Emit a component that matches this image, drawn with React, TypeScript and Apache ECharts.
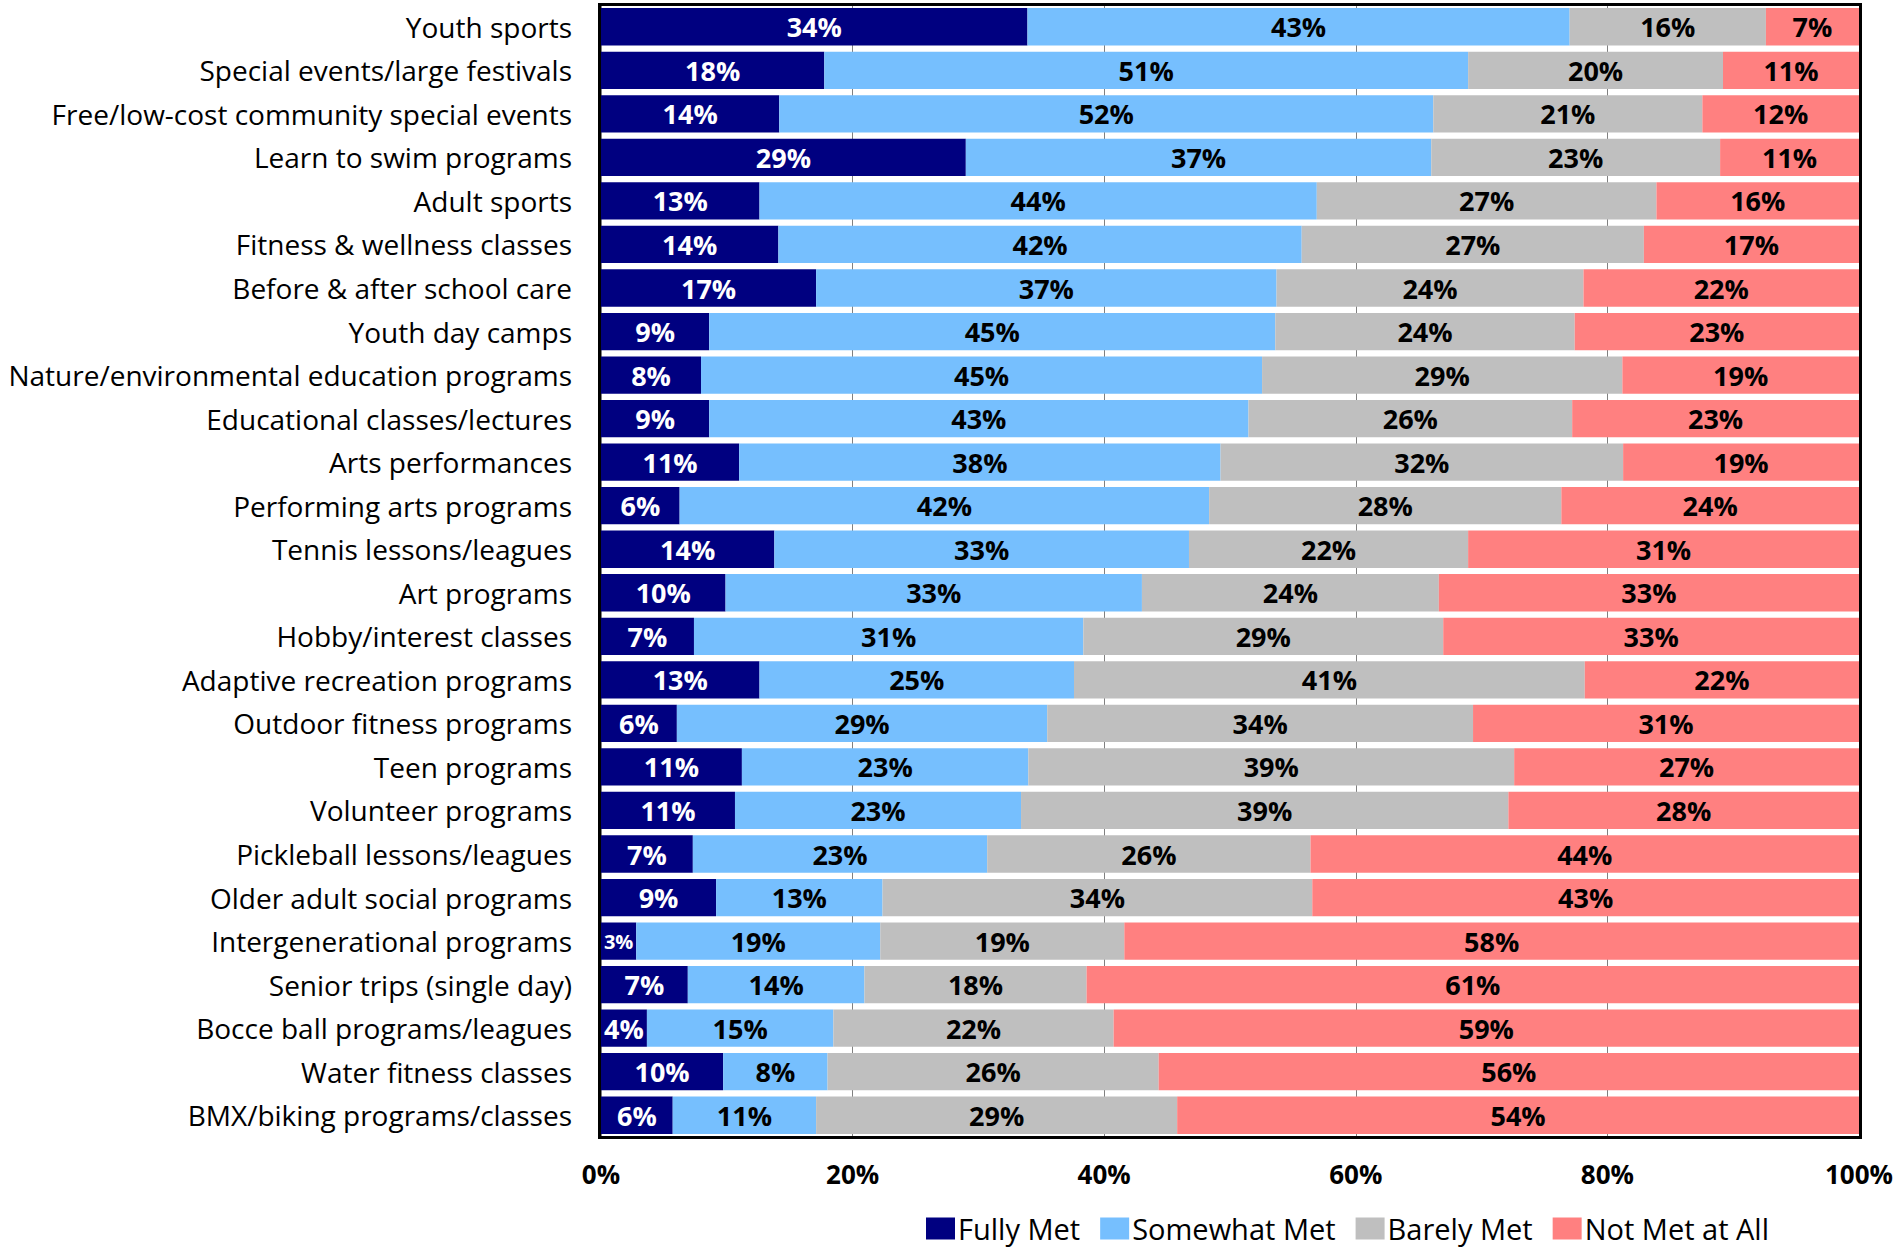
import React, { useEffect, useRef } from "react";
import * as echarts from "echarts";

const categories = [
  "Youth sports",
  "Special events/large festivals",
  "Free/low-cost community special events",
  "Learn to swim programs",
  "Adult sports",
  "Fitness & wellness classes",
  "Before & after school care",
  "Youth day camps",
  "Nature/environmental education programs",
  "Educational classes/lectures",
  "Arts performances",
  "Performing arts programs",
  "Tennis lessons/leagues",
  "Art programs",
  "Hobby/interest classes",
  "Adaptive recreation programs",
  "Outdoor fitness programs",
  "Teen programs",
  "Volunteer programs",
  "Pickleball lessons/leagues",
  "Older adult social programs",
  "Intergenerational programs",
  "Senior trips (single day)",
  "Bocce ball programs/leagues",
  "Water fitness classes",
  "BMX/biking programs/classes",
];

const fullyMet = [33.9, 17.75, 14.17, 29.0, 12.6, 14.1, 17.1, 8.6, 7.95, 8.6, 10.98, 6.25, 13.78, 9.9, 7.39, 12.6, 6.03, 11.2, 10.65, 7.3, 9.15, 2.8, 6.9, 3.65, 9.71, 5.7];
const somewhatMet = [43.1, 51.18, 51.99, 37.0, 44.3, 41.6, 36.6, 45.0, 44.6, 42.87, 38.27, 42.09, 32.96, 33.1, 30.95, 25.0, 29.44, 22.77, 22.74, 23.4, 13.23, 19.4, 14.04, 14.82, 8.3, 11.4];
const barelyMet = [15.6, 20.26, 21.39, 22.96, 27.0, 27.2, 24.4, 23.8, 28.64, 25.73, 32.0, 28.0, 22.19, 23.6, 28.61, 40.6, 33.85, 38.62, 38.74, 25.7, 34.16, 19.4, 17.66, 22.28, 26.32, 28.7];
const notMetAtAll = [7.4, 10.81, 12.45, 11.04, 16.1, 17.1, 21.9, 22.6, 18.81, 22.8, 18.75, 23.66, 31.07, 33.4, 33.05, 21.8, 30.68, 27.41, 27.87, 43.6, 43.46, 58.4, 61.4, 59.25, 55.67, 54.2];

const seriesNames = ["Fully Met", "Somewhat Met", "Barely Met", "Not Met at All"];
const seriesColors = ["#000080", "#76BFFE", "#BFBFBF", "#FF8080"];
const labelColors = ["#FFFFFF", "#000000", "#000000", "#000000"];

const FONT = "'Open Sans', sans-serif";

export default function App() {
  const ref = useRef<HTMLDivElement>(null);

  useEffect(() => {
    if (!ref.current) return;
    const chart = echarts.init(ref.current, undefined, { renderer: "svg" });
    const allSeries = [fullyMet, somewhatMet, barelyMet, notMetAtAll];

    const series = allSeries.map((vals, i) => ({
      name: seriesNames[i],
      type: "bar",
      stack: "total",
      barCategoryGap: "14.3%",
      itemStyle: { color: seriesColors[i] },
      data: vals.map((v) => ({
        value: v,
        label: v < 3 ? { fontSize: 20 } : undefined,
      })),
      label: {
        show: true,
        position: "inside",
        color: labelColors[i],
        fontFamily: FONT,
        fontWeight: "bold",
        fontSize: 27,
        formatter: (p: any) => Math.round(p.value) + "%",
      },
      emphasis: { disabled: true },
    }));

    chart.setOption({
      animation: false,
      backgroundColor: "#ffffff",
      grid: { left: 601, top: 5, width: 1258, height: 1132, containLabel: false },
      xAxis: {
        type: "value",
        min: 0,
        max: 100,
        interval: 20,
        axisLine: { show: false },
        axisTick: { show: false },
        splitLine: { show: true, lineStyle: { color: "#808080", width: 1 } },
        axisLabel: {
          formatter: "{value}%",
          color: "#000",
          fontFamily: FONT,
          fontWeight: "bold",
          fontSize: 26,
          margin: 24,
        },
      },
      yAxis: {
        type: "category",
        inverse: true,
        data: categories,
        axisLine: { show: false },
        axisTick: { show: false },
        axisLabel: {
          color: "#000",
          fontFamily: FONT,
          fontSize: 28,
          margin: 29,
        },
      },
      legend: {
        data: seriesNames,
        left: 926,
        top: 1214,
        padding: 0,
        itemWidth: 29,
        itemHeight: 22,
        itemGap: 20,
        icon: "rect",
        textStyle: { color: "#000", fontFamily: FONT, fontSize: 29, padding: [0, 0, 0, -2] },
      },
      graphic: [
        {
          type: "rect",
          silent: true,
          z: 100,
          shape: { x: 599.5, y: 4.5, width: 1261, height: 1133 },
          style: { fill: "none", stroke: "#000", lineWidth: 3 },
        },
      ],
      series,
    });

    return () => chart.dispose();
  }, []);

  return (
    <div
      ref={ref}
      style={{ position: "absolute", left: 0, top: 0, width: 1896, height: 1249, background: "#fff" }}
    />
  );
}
